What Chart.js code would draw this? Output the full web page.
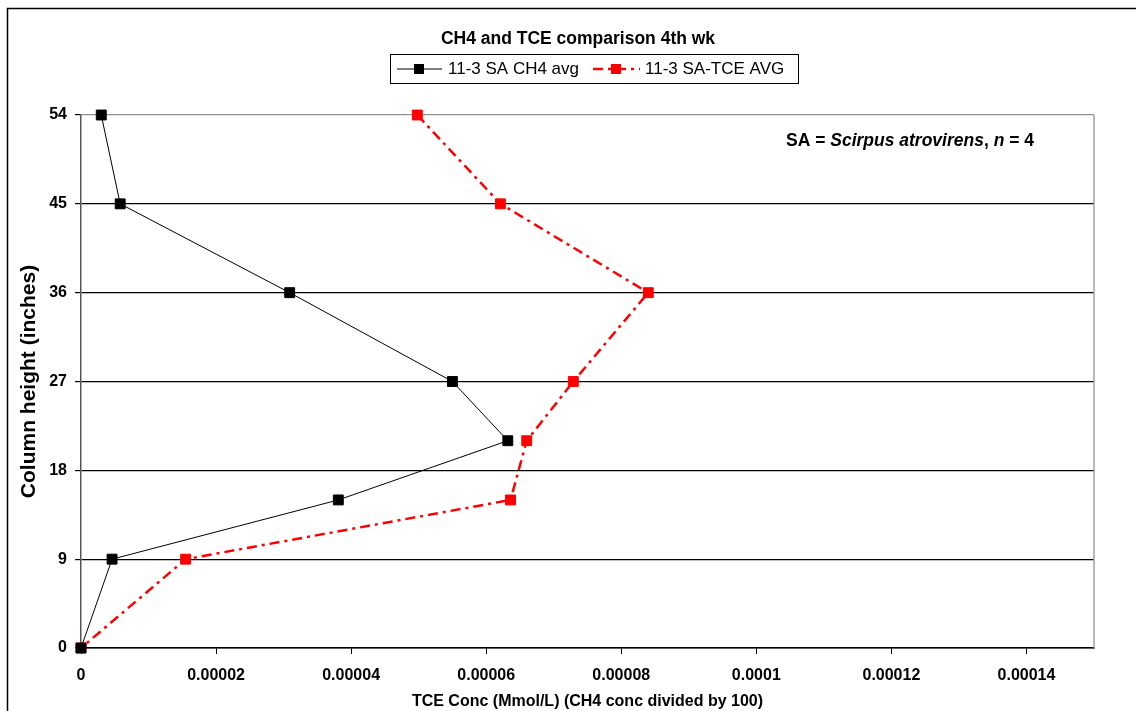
<!DOCTYPE html>
<html>
<head>
<meta charset="utf-8">
<script src="https://cdn.jsdelivr.net/npm/chart.js@4"></script>
<style>
  html, body { margin: 0; padding: 0; background: #fff; }
  #wrap { width: 1136px; height: 711px; }
</style>
</head>
<body>
<div id="wrap"><canvas id="grafico"></canvas></div>
<script>
// column heights (inches) measured at each sampling port
const heights = [54, 45, 36, 27, 21, 15, 9, 0];
// 11-3 SA CH4 avg (already divided by 100)
const ch4Avg = [0.0000030, 0.0000058, 0.0000309, 0.0000550, 0.0000632, 0.0000381, 0.0000046, 0];
// 11-3 SA-TCE AVG
const tceAvg = [0.0000498, 0.0000621, 0.0000840, 0.0000729, 0.0000660, 0.0000636, 0.0000155, 0];
const yTicks = [0, 9, 18, 27, 36, 45, 54];
const xTicks = [0, 0.00002, 0.00004, 0.00006, 0.00008, 0.0001, 0.00012, 0.00014];

const FONT = "'Liberation Sans', Arial, sans-serif";

function toPoints(xs) {
    return heights.map(function(h, i) { return { x: xs[i], y: h }; });
}

// texto y cajas que Excel dibuja fuera del área de datos
const decoraciones = {
    id: 'decoraciones',
    beforeDraw: function(chart) {
        const ctx = chart.ctx;
        ctx.save();
        ctx.fillStyle = '#fff';
        ctx.fillRect(0, 0, chart.width, chart.height);
        ctx.restore();
    },
    beforeDatasetsDraw: function(chart) {
        // borde derecho del área de trazado
        const ctx = chart.ctx;
        const area = chart.chartArea;
        ctx.save();
        ctx.strokeStyle = '#a0a0a0';
        ctx.lineWidth = 1.5;
        ctx.beginPath();
        ctx.moveTo(area.right, area.top);
        ctx.lineTo(area.right, area.bottom);
        ctx.stroke();
        ctx.restore();
    },
    afterDraw: function(chart) {
        const ctx = chart.ctx;
        ctx.save();

        // marco exterior
        ctx.strokeStyle = '#000';
        ctx.lineWidth = 1.5;
        ctx.strokeRect(7.5, 8.5, 1300, 900);

        // título
        ctx.fillStyle = '#000';
        ctx.font = 'bold 17.5px ' + FONT;
        ctx.textAlign = 'center';
        ctx.textBaseline = 'middle';
        ctx.fillText('CH4 and TCE comparison 4th wk', 578, 39);

        // leyenda
        ctx.lineWidth = 1;
        ctx.strokeStyle = '#000';
        ctx.strokeRect(390.5, 54.5, 408, 29);
        const items = [
            { x1: 397, x2: 442, mx: 419, tx: 448, ds: chart.data.datasets[0] },
            { x1: 593, x2: 640, mx: 616, tx: 645, ds: chart.data.datasets[1] }
        ];
        const ly = 69;
        items.forEach(function(it) {
            ctx.strokeStyle = it.ds.borderColor;
            ctx.lineWidth = it.ds.borderWidth;
            ctx.setLineDash(it.ds.borderDash || []);
            ctx.beginPath();
            ctx.moveTo(it.x1, ly);
            ctx.lineTo(it.x2, ly);
            ctx.stroke();
            ctx.setLineDash([]);
            ctx.fillStyle = it.ds.pointBackgroundColor;
            ctx.fillRect(it.mx - 5, ly - 5, 10, 10);
            ctx.fillStyle = '#000';
            ctx.font = '17px ' + FONT;
            ctx.textAlign = 'left';
            ctx.fillText(it.ds.label, it.tx, ly);
        });

        // nota de especie
        const partes = [
            ['SA = ', 'bold'],
            ['Scirpus atrovirens', 'italic bold'],
            [', ', 'bold'],
            ['n', 'italic bold'],
            [' = 4', 'bold']
        ];
        let x = 786;
        ctx.textAlign = 'left';
        ctx.textBaseline = 'alphabetic';
        partes.forEach(function(p) {
            ctx.font = p[1] + ' 17.5px ' + FONT;
            ctx.fillText(p[0], x, 146);
            x += ctx.measureText(p[0]).width;
        });
        ctx.restore();
    }
};

const ctx1 = document.getElementById('grafico').getContext('2d');
const grafico = new Chart(ctx1, {
    type: 'scatter',
    data: {
        datasets: [{
            label: '11-3 SA CH4 avg',
            data: toPoints(ch4Avg),
            showLine: true,
            clip: false,
            borderColor: '#000',
            borderWidth: 1,
            pointStyle: 'rect',
            pointRadius: 7,
            pointHoverRadius: 7,
            pointBorderWidth: 1,
            pointBackgroundColor: '#000',
            pointBorderColor: '#000'
        }, {
            label: '11-3 SA-TCE AVG',
            data: toPoints(tceAvg),
            showLine: true,
            clip: false,
            borderColor: '#ff0000',
            borderWidth: 2.5,
            borderDash: [10, 5, 3, 5],
            pointStyle: 'rect',
            pointRadius: 7,
            pointHoverRadius: 7,
            pointBorderWidth: 1,
            pointBackgroundColor: '#ff0000',
            pointBorderColor: '#ff0000'
        }]
    },
    options: {
        responsive: true,
        maintainAspectRatio: false,
        animation: false,
        layout: { padding: { top: 115, right: 42, bottom: 0, left: 0 } },
        plugins: {
            legend: { display: false },
            title: { display: false },
            tooltip: { enabled: false }
        },
        scales: {
            x: {
                type: 'linear',
                min: 0,
                max: 0.00015,
                afterBuildTicks: function(scale) {
                    scale.ticks = xTicks.map(function(v) { return { value: v }; });
                },
                afterFit: function(scale) { scale.height = 63; },
                ticks: {
                    color: '#000',
                    font: { family: FONT, size: 16, weight: 'bold' },
                    padding: 12,
                    maxRotation: 0,
                    autoSkip: false,
                    callback: function(v) { return String(Number(v.toFixed(6))); }
                },
                grid: {
                    drawOnChartArea: false,
                    drawTicks: true,
                    tickLength: 6,
                    color: '#000'
                },
                border: { color: '#000', width: 1.5 },
                title: {
                    display: true,
                    text: 'TCE Conc (Mmol/L) (CH4 conc divided by 100)',
                    color: '#000',
                    font: { family: FONT, size: 16, weight: 'bold' },
                    padding: { top: 0, bottom: 0 }
                }
            },
            y: {
                type: 'linear',
                min: 0,
                max: 54,
                afterBuildTicks: function(scale) {
                    scale.ticks = yTicks.map(function(v) { return { value: v }; });
                },
                afterFit: function(scale) { scale.width = 81; },
                ticks: {
                    color: '#000',
                    font: { family: FONT, size: 16, weight: 'bold' },
                    padding: 8
                },
                grid: {
                    color: function(c) { return c.tick && c.tick.value === 54 ? '#909090' : '#000'; },
                    lineWidth: 1.2,
                    tickColor: '#000',
                    tickLength: 6
                },
                border: { color: '#555', width: 1.5 },
                title: {
                    display: true,
                    text: 'Column height (inches)',
                    color: '#000',
                    font: { family: FONT, size: 21, weight: 'bold' },
                    padding: { top: 17, bottom: 0 }
                }
            }
        }
    },
    plugins: [decoraciones]
});
</script>
</body>
</html>
